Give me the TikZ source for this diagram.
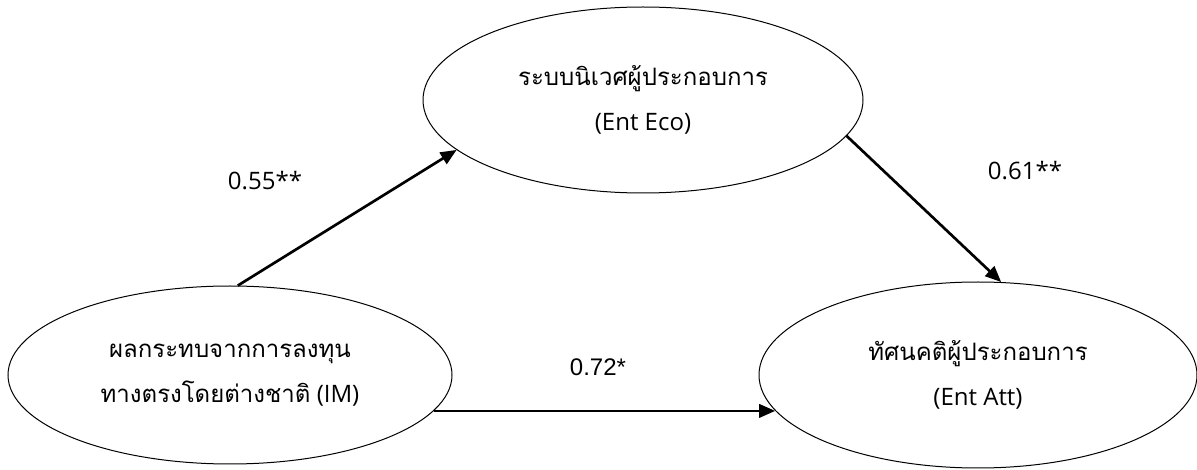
\documentclass[tikz,border=0pt]{standalone}
\usepackage{fontspec}
\setmainfont{Open Sans}
\newfontfamily\thaifont[Script=Thai]{Loma}
\newfontfamily\arialfont{Liberation Sans}
\usetikzlibrary{shapes.geometric, arrows.meta, positioning}

\begin{document}
\begin{tikzpicture}[x=0.75pt,y=-0.75pt,>={Triangle[length=12pt,width=10pt]},
        latent/.style={ellipse,draw,line width=0.75pt,inner sep=0pt,align=center,
            font=\fontsize{18pt}{34pt}\selectfont},
        path/.style={->,line width=2pt},
        coef/.style={font=\fontsize{18pt}{22pt}\selectfont}]

        \useasboundingbox (0,0) rectangle (1197,470);

        \node[latent,minimum width=330pt,minimum height=139.5pt] (eco) at (643,100)
            {{\thaifont ระบบนิเวศผู้ประกอบการ}\\(Ent Eco)};
        \node[latent,minimum width=333pt,minimum height=133.5pt] (im) at (230,375)
            {{\thaifont ผลกระทบจากการลงทุน}\\{\thaifont ทางตรงโดยต่างชาติ} (IM)};
        \node[latent,minimum width=328.5pt,minimum height=139.5pt] (att) at (978,375)
            {{\thaifont ทัศนคติผู้ประกอบการ}\\(Ent Att)};

        % path coefficients
        \node[coef] (c_im_eco) at (265,181) {0.55**};
        \node[coef] (c_eco_att) at (1025,171) {0.61**};
        \node[coef,font=\arialfont\fontsize{18pt}{22pt}\selectfont] (c_im_att) at (598,367) {0.72*};

        \path[path] (im.85) edge (eco.195)
                (eco.-10) edge (att.76)
                (im.-10) edge (im.-10 -| att.190);
    \end{tikzpicture}
\end{document}
